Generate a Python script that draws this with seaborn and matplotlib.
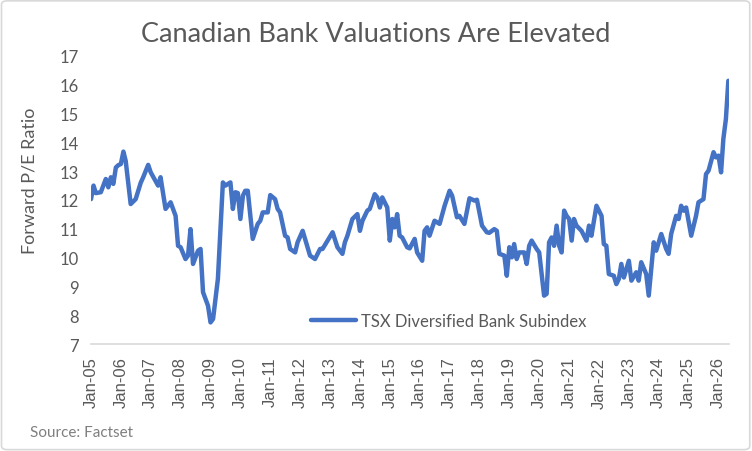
import matplotlib
matplotlib.use('Agg')
import matplotlib.pyplot as plt
import matplotlib.dates as mdates
from matplotlib.patches import FancyBboxPatch
import pandas as pd
import seaborn as sns

# months since Jan-2005
month_offsets = [0, 1, 2, 4, 6, 7, 8, 9, 10, 11, 12, 13, 14, 16, 18, 20, 21, 23, 24, 27,
                 28, 30, 32, 34, 35, 36, 38, 39, 40, 41, 43, 44, 45, 47, 48, 49, 51, 53, 54, 56,
                 57, 58, 59, 60, 61, 62, 63, 65, 67, 68, 69, 71, 72, 74, 75, 76, 78, 79, 80, 82,
                 83, 85, 88, 90, 92, 93, 97, 99, 101, 102, 103, 105, 107, 108, 109, 111, 112, 114, 115, 116,
                 117, 119, 120, 121, 122, 123, 124, 125, 127, 128, 130, 131, 133, 134, 135, 136, 138, 140, 142, 144,
                 145, 147, 148, 150, 152, 154, 155, 157, 159, 160, 162, 163, 164, 166, 167, 168, 169, 170, 171, 172,
                 174, 175, 176, 177, 179, 180, 182, 183, 184, 185, 186, 187, 188, 189, 190, 191, 192, 193, 194, 195,
                 197, 199, 200, 201, 203, 205, 206, 207, 208, 210, 211, 212, 213, 214, 216, 217, 219, 220, 221, 223,
                 224, 226, 227, 229, 231, 232, 233, 235, 236, 237, 238, 239, 241, 243, 244, 246, 247, 248, 250, 251,
                 252, 253, 254, 255, 256]
pe_values = [12.03, 12.5, 12.24, 12.27, 12.73, 12.44, 12.79, 12.56, 13.13, 13.21, 13.25, 13.68, 13.36, 11.86, 12.03, 12.6, 12.79, 13.22, 12.96, 12.5,
             12.79, 11.69, 11.92, 11.45, 10.41, 10.36, 9.95, 10.07, 10.99, 9.78, 10.24, 10.3, 8.8, 8.33, 7.75, 7.87, 9.26, 12.61, 12.5, 12.61,
             11.69, 12.27, 12.24, 11.34, 12.15, 12.32, 12.32, 10.65, 11.17, 11.28, 11.57, 11.57, 12.17, 12.03, 11.69, 11.57, 10.76, 10.7, 10.3, 10.18,
             10.53, 10.93, 10.07, 9.95, 10.3, 10.3, 10.88, 10.36, 10.13, 10.53, 10.76, 11.34, 11.51, 10.93, 11.28, 11.63, 11.69, 12.2, 12.09, 11.74,
             12.09, 11.74, 10.59, 11.34, 11.05, 11.51, 10.76, 10.7, 10.36, 10.32, 10.65, 10.18, 9.89, 10.93, 11.05, 10.76, 11.28, 11.17, 11.8, 12.32,
             12.15, 11.4, 11.45, 11.17, 12.06, 11.98, 12.01, 11.11, 10.88, 10.86, 10.99, 10.93, 10.13, 10.07, 9.37, 10.36, 10.01, 10.47, 9.95, 10.18,
             10.18, 9.78, 10.41, 10.59, 10.3, 10.18, 8.68, 8.74, 10.53, 10.7, 10.41, 11.11, 10.41, 10.18, 11.63, 11.45, 11.34, 10.59, 11.34, 11.11,
             10.93, 10.59, 11.11, 10.76, 11.8, 11.45, 10.47, 10.41, 9.43, 9.37, 9.08, 9.26, 9.78, 9.31, 9.89, 9.2, 9.49, 9.2, 9.84, 9.43,
             8.68, 10.53, 10.24, 10.82, 10.3, 10.13, 10.82, 11.45, 11.34, 11.8, 11.63, 11.74, 10.76, 11.45, 11.92, 12.03, 12.9, 13.02, 13.66, 13.48,
             13.54, 12.96, 14.12, 14.81, 16.14]

series_name = 'TSX Diversified Bank Subindex'
chart_title = 'Canadian Bank Valuations Are Elevated'
y_label = 'Forward P/E Ratio'
source_note = 'Source: Factset'
y_ticks = list(range(7, 18))

start = pd.Period('2005-01', freq='M')
df = pd.DataFrame({'date': [(start + m).to_timestamp() for m in month_offsets],
                   'pe': pe_values})

sns.set_style('white')
plt.rcParams['font.family'] = ['Lato', 'DejaVu Sans']
text_grey = '#595959'
axis_grey = '#d9d9d9'

W, H = 752, 452
fig = plt.figure(figsize=(W / 100, H / 100), dpi=100)
ax = fig.add_axes([91 / W, 1 - 345 / H, (729 - 91) / W, (345 - 57) / H])

sns.lineplot(data=df, x='date', y='pe', ax=ax, color='#4472C4', linewidth=3.2, label=series_name)

ax.set_ylim(7, 17)
ax.set_yticks(y_ticks)
ax.set_xlim(df['date'].iloc[0], df['date'].iloc[-1] + pd.Timedelta(days=8))
ax.xaxis.set_major_locator(mdates.YearLocator(1, month=1, day=1))
ax.xaxis.set_major_formatter(mdates.DateFormatter('%b-%y'))
ax.set_xlabel('')
ax.set_ylabel('')

for side in ['top', 'right', 'left']:
    ax.spines[side].set_visible(False)
ax.spines['bottom'].set_color(axis_grey)
ax.spines['bottom'].set_linewidth(1.2)

ax.tick_params(axis='x', length=4, width=1.2, color=axis_grey, labelsize=12, labelcolor=text_grey,
               labelrotation=90, pad=5, labelfontfamily='Liberation Sans')
ax.tick_params(axis='y', length=0, pad=9, labelsize=12, labelcolor=text_grey)

leg = ax.legend(loc='center', bbox_to_anchor=(0.561, 0.08), frameon=False, fontsize=12,
                handlelength=2.7, handletextpad=0.3)
for t in leg.get_texts():
    t.set_color(text_grey)

fig.text(0.5, 1 - 35 / H, chart_title, ha='center', va='center', fontsize=19.5, color=text_grey)
fig.text(30 / W, 1 - 181 / H, y_label, ha='center', va='center', rotation=90, fontsize=13, color=text_grey)
fig.text(30 / W, 1 - 433 / H, source_note, ha='left', va='center', fontsize=11, color='#7f7f7f')

fig.patches.append(FancyBboxPatch((0.002, 0.003), 0.995, 0.993, boxstyle='round,pad=0,rounding_size=0.008',
                                  transform=fig.transFigure, fill=False, edgecolor=axis_grey, linewidth=1.2))

fig.savefig('out.png', dpi=100)
